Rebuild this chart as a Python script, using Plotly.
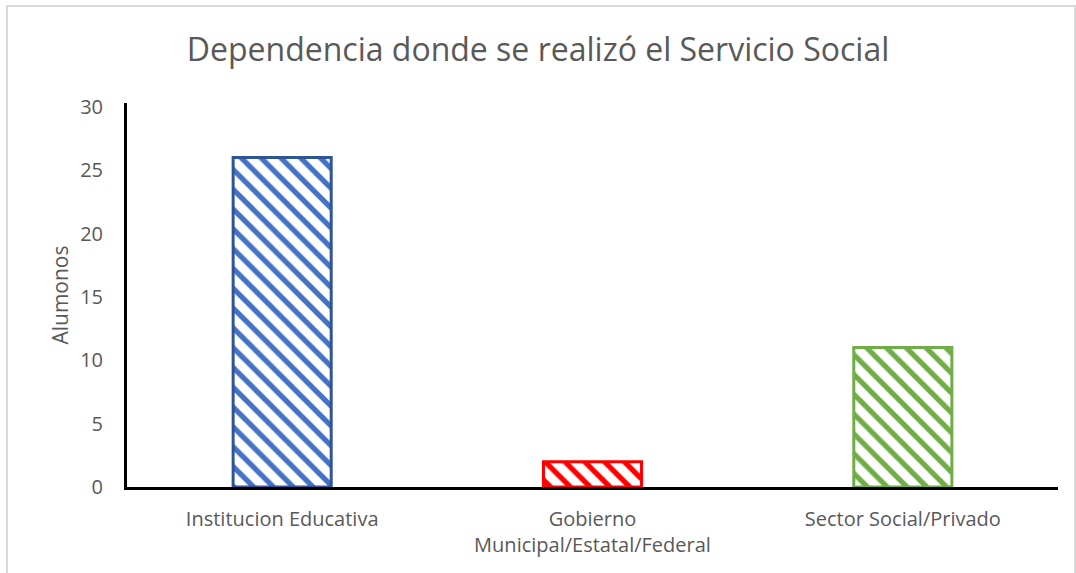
import plotly.graph_objects as go

categories = ["Institucion Educativa", "Gobierno<br>Municipal/Estatal/Federal", "Sector Social/Privado"]
alumnos = [26, 2, 11]
stripe_colors = ["#4472C4", "#FF0000", "#70AD47"]
edge_colors = ["#2F5597", "#FF0000", "#70AD47"]

fig = go.Figure()
fig.add_bar(
    x=categories, y=alumnos,
    marker=dict(
        color="white",
        line=dict(color=edge_colors, width=3),
        pattern=dict(shape="\\", fgcolor=stripe_colors, bgcolor="white",
                     size=14, solidity=0.38, fgopacity=1, fillmode="overlay"),
    ),
)

fig.update_layout(
    width=1076, height=573,
    margin=dict(l=127, r=18, t=103, b=86),
    paper_bgcolor="white", plot_bgcolor="white",
    font=dict(family="Open Sans", color="#595959", size=18),
    title=dict(text="Dependencia donde se realizó el Servicio Social",
               x=0.5, xanchor="center", y=0.913, yanchor="middle",
               font=dict(size=32, color="#595959")),
    bargap=0.684,
    showlegend=False,
    shapes=[dict(type="rect", xref="paper", yref="paper",
                 x0=-0.1289, x1=1.0183, y0=-0.3, y1=1.2526,
                 line=dict(color="#D9D9D9", width=2))],
)
fig.update_xaxes(showline=True, linecolor="black", linewidth=3, ticks="",
                 showgrid=False, ticklabelstandoff=12,
                 tickfont=dict(size=20, color="#595959"))
fig.update_yaxes(range=[0, 30.3], tickvals=[0, 5, 10, 15, 20, 25, 30],
                 showline=True, linecolor="black", linewidth=3, ticks="",
                 showgrid=False, zeroline=False, ticklabelstandoff=17,
                 tickfont=dict(size=20, color="#595959"),
                 title=dict(text="Alumonos", font=dict(size=21, color="#595959"),
                            standoff=6))

fig.write_html("out.html", config={"displayModeBar": False},
               post_script="document.body.style.margin='0';")
